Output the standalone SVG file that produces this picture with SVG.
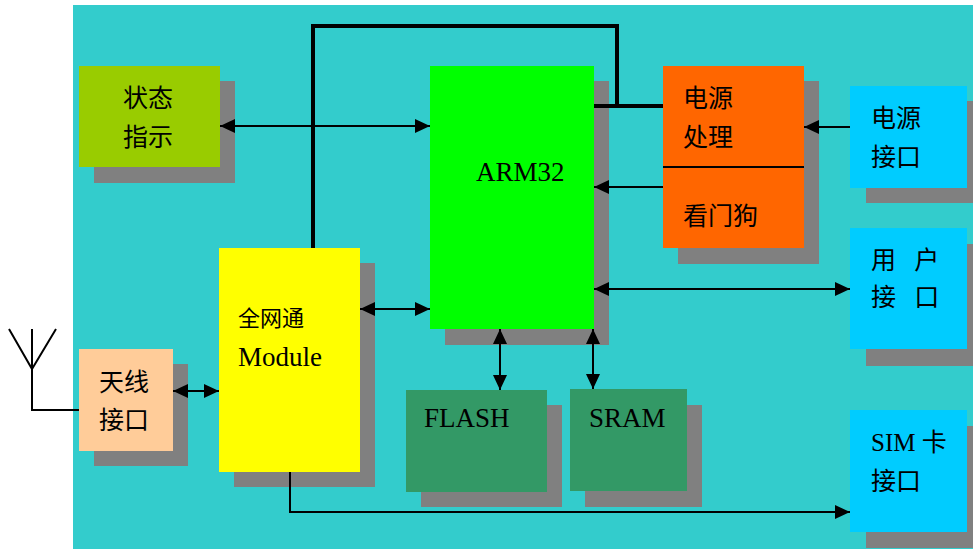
<svg xmlns="http://www.w3.org/2000/svg" width="973" height="549" viewBox="0 0 973 549">
<defs>
<style>
.sh{fill:#808080}
.t{font-family:"Liberation Serif","Noto Sans CJK SC",serif;font-size:25px;fill:#000}
.l{font-family:"Liberation Serif","Noto Sans CJK SC",serif;font-size:27px;fill:#000}
.c{fill:none;stroke:#000;stroke-width:2}
.k{fill:none;stroke:#000;stroke-width:4}
</style>
<marker id="a" viewBox="0 0 15 14" refX="15" refY="7" markerWidth="15" markerHeight="14" markerUnits="userSpaceOnUse" orient="auto-start-reverse">
<path d="M0,0 L15,7 L0,14 z" fill="#000"/>
</marker>
</defs>
<rect x="0" y="0" width="973" height="549" fill="#fff"/>
<rect x="73" y="5" width="900" height="544" fill="#33CCCC"/>

<g id="status">
<rect class="sh" x="94" y="81" width="141" height="102"/>
<rect x="79" y="66" width="141" height="101" fill="#99CC00"/>
<text class="t" x="123" y="107">状态</text>
<text class="t" x="123" y="146">指示</text>
</g>

<g id="arm">
<rect class="sh" x="445" y="81" width="164" height="264"/>
<rect x="430" y="66" width="164" height="263" fill="#00FF00"/>
<text class="l" x="476" y="181">ARM32</text>
</g>

<g id="power">
<rect class="sh" x="678" y="81" width="141" height="183"/>
<rect x="663" y="66" width="141" height="182" fill="#FF6600"/>
<line x1="663" y1="167" x2="804" y2="167" stroke="#000" stroke-width="2"/>
<text class="t" x="683" y="107">电源</text>
<text class="t" x="683" y="146">处理</text>
<text class="t" x="683" y="225">看门狗</text>
</g>

<g id="powerif">
<rect class="sh" x="866" y="101" width="117" height="102"/>
<rect x="850" y="86" width="117" height="102" fill="#00CCFF"/>
<text class="t" x="871" y="127">电源</text>
<text class="t" x="871" y="166">接口</text>
</g>

<g id="userif">
<rect class="sh" x="866" y="244" width="117" height="122"/>
<rect x="850" y="228" width="117" height="121" fill="#00CCFF"/>
<text class="t" x="871" y="269" word-spacing="12">用 户</text>
<text class="t" x="871" y="306" word-spacing="12">接 口</text>
</g>

<g id="module">
<rect class="sh" x="234" y="263" width="141" height="224"/>
<rect x="219" y="248" width="141" height="224" fill="#FFFF00"/>
<text class="t" x="238" y="326" style="font-size:22px">全网通</text>
<text class="l" x="238" y="366">Module</text>
</g>

<g id="antif">
<rect class="sh" x="94" y="364" width="94" height="102"/>
<rect x="79" y="349" width="94" height="102" fill="#FFCC99"/>
<text class="t" x="99" y="391">天线</text>
<text class="t" x="99" y="429">接口</text>
</g>

<g id="flash">
<rect class="sh" x="421" y="405" width="141" height="102"/>
<rect x="406" y="390" width="141" height="102" fill="#339966"/>
<text class="l" x="424" y="427">FLASH</text>
</g>

<g id="sram">
<rect class="sh" x="585" y="405" width="117" height="102"/>
<rect x="570" y="389" width="117" height="102" fill="#339966"/>
<text class="l" x="589" y="427">SRAM</text>
</g>

<g id="simif">
<rect class="sh" x="866" y="426" width="117" height="122"/>
<rect x="850" y="410" width="117" height="122" fill="#00CCFF"/>
<text class="t" x="871" y="451">SIM 卡</text>
<text class="t" x="871" y="490">接口</text>
</g>

<g id="antenna" fill="none" stroke="#000" stroke-width="2">
<polyline points="9,329 32,369 56,329"/>
<polyline points="32,329 32,410 79,410"/>
</g>

<g id="connectors">
<line class="c" x1="220" y1="126" x2="430" y2="126" marker-start="url(#a)" marker-end="url(#a)"/>
<line class="c" x1="360" y1="309" x2="430" y2="309" marker-start="url(#a)" marker-end="url(#a)"/>
<line class="c" x1="173" y1="391" x2="219" y2="391" marker-start="url(#a)" marker-end="url(#a)"/>
<line class="c" x1="500" y1="329" x2="500" y2="390" marker-start="url(#a)" marker-end="url(#a)"/>
<line class="c" x1="593" y1="329" x2="593" y2="389" marker-start="url(#a)" marker-end="url(#a)"/>
<line class="c" x1="594" y1="289" x2="850" y2="289" marker-start="url(#a)" marker-end="url(#a)"/>
<line class="c" x1="850" y1="127" x2="804" y2="127" stroke-width="1.5" marker-end="url(#a)"/>
<line class="c" x1="663" y1="187" x2="594" y2="187" marker-end="url(#a)"/>
<polyline class="c" points="290,472 290,512 850,512" marker-end="url(#a)"/>
<polyline class="k" points="313,248 313,26 617,26 617,106"/>
<line class="k" x1="594" y1="106" x2="663" y2="106"/>
</g>
</svg>
